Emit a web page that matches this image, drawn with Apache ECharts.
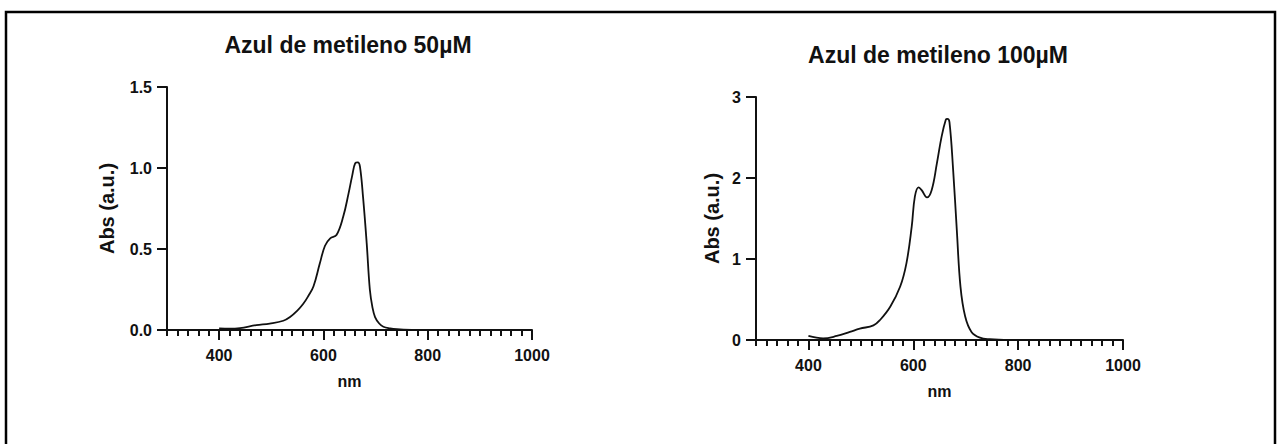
<!DOCTYPE html>
<html>
<head>
<meta charset="utf-8">
<style>
html,body{margin:0;padding:0;background:#fff;}
#c{width:1283px;height:444px;}
</style>
<script src="https://cdn.jsdelivr.net/npm/echarts@6/dist/echarts.min.js"></script>
</head>
<body>
<div id="c"></div>
<script>
// Data
const titles = ['Azul de metileno 50µM', 'Azul de metileno 100µM'];
const xName = 'nm';
const yName = 'Abs (a.u.)';
const xMajorLabels = [400, 600, 800, 1000];

const nm50 = [400, 420, 440, 471, 497, 523, 536, 550, 561, 571, 581, 593, 603, 613, 625, 638, 648, 655, 661, 666, 670, 676, 683, 689, 694, 699, 707, 715, 728, 741, 769];
const abs50 = [0.01, 0.008, 0.012, 0.03, 0.04, 0.057, 0.08, 0.12, 0.16, 0.21, 0.27, 0.41, 0.52, 0.566, 0.586, 0.70, 0.84, 0.95, 1.03, 1.035, 1.01, 0.82, 0.535, 0.25, 0.14, 0.08, 0.04, 0.02, 0.01, 0.005, 0.0];

const nm100 = [400, 428, 454, 479, 498, 524, 537, 556, 575, 587, 597, 603, 610, 616, 626, 635, 645, 654, 662, 665, 669, 676, 683, 690, 699, 711, 727, 746, 784];
const abs100 = [0.05, 0.02, 0.05, 0.10, 0.14, 0.18, 0.25, 0.41, 0.66, 0.95, 1.40, 1.77, 1.885, 1.85, 1.76, 1.85, 2.18, 2.51, 2.72, 2.73, 2.69, 2.10, 1.36, 0.66, 0.29, 0.10, 0.03, 0.01, 0.0];

const y1Ticks = {min: 0, max: 1.5, interval: 0.5};
const y2Ticks = {min: 0, max: 3, interval: 1};

const FONT = 'Liberation Sans, Arial, sans-serif';

function pairs(xs, ys) { return xs.map((x, i) => [x, ys[i]]); }

function xAxes(gridIndex, nameGap) {
  return [
    {
      type: 'value', gridIndex: gridIndex, min: 300, max: 1000, interval: 20,
      name: xName, nameLocation: 'middle', nameGap: nameGap,
      nameTextStyle: {fontFamily: FONT, fontWeight: 'bold', fontSize: 16, color: '#111'},
      axisLine: {show: true, onZero: false, lineStyle: {color: '#111', width: 2}},
      axisTick: {show: true, length: 6, lineStyle: {color: '#111', width: 2}},
      axisLabel: {show: false},
      splitLine: {show: false}
    },
    {
      type: 'value', gridIndex: gridIndex, min: 300, max: 1000, position: 'bottom',
      axisLine: {show: false},
      axisTick: {show: true, length: 10, customValues: xMajorLabels, lineStyle: {color: '#111', width: 2}},
      axisLabel: {show: true, customValues: xMajorLabels, margin: 17, formatter: v => String(v),
        fontFamily: FONT, fontWeight: 'bold', fontSize: 16, color: '#111'},
      splitLine: {show: false}
    }
  ];
}

function yAxis(gridIndex, t, nameGap, digits) {
  return {
    type: 'value', gridIndex: gridIndex, min: t.min, max: t.max, interval: t.interval,
    name: yName, nameLocation: 'middle', nameGap: nameGap, nameRotate: 90,
    nameTextStyle: {fontFamily: FONT, fontWeight: 'bold', fontSize: 20, color: '#111'},
    axisLine: {show: true, onZero: false, lineStyle: {color: '#111', width: 2}},
    axisTick: {show: true, length: 10, lineStyle: {color: '#111', width: 2}},
    axisLabel: {margin: 15, fontFamily: FONT, fontWeight: 'bold', fontSize: 16, color: '#111',
      formatter: v => v.toFixed(digits)},
    splitLine: {show: false}
  };
}

const chart = echarts.init(document.getElementById('c'), null, {renderer: 'svg'});
const xa = xAxes(0, 43).concat(xAxes(1, 43));
chart.setOption({
  backgroundColor: '#fff',
  animation: false,
  graphic: [
    {type: 'rect', shape: {x: 6, y: 12, width: 1269, height: 520}, style: {fill: 'none', stroke: '#000', lineWidth: 2.5}, silent: true},
    {type: 'text', x: 348, y: 33, style: {text: titles[0], fontFamily: FONT, fontWeight: 'bold', fontSize: 23, fill: '#111', textAlign: 'center', textVerticalAlign: 'top'}},
    {type: 'text', x: 938, y: 43, style: {text: titles[1], fontFamily: FONT, fontWeight: 'bold', fontSize: 23, fill: '#111', textAlign: 'center', textVerticalAlign: 'top'}}
  ],
  grid: [
    {left: 167, top: 87, width: 365, height: 243},
    {left: 756, top: 97, width: 367, height: 243}
  ],
  xAxis: xa,
  yAxis: [yAxis(0, y1Ticks, 50, 1), yAxis(1, y2Ticks, 34, 0)],
  series: [
    {type: 'line', xAxisIndex: 0, yAxisIndex: 0, data: pairs(nm50, abs50), smooth: 0.4, showSymbol: false,
      lineStyle: {color: '#111', width: 1.8}},
    {type: 'line', xAxisIndex: 2, yAxisIndex: 1, data: pairs(nm100, abs100), smooth: 0.4, showSymbol: false,
      lineStyle: {color: '#111', width: 1.8}}
  ]
});
</script>
</body>
</html>
